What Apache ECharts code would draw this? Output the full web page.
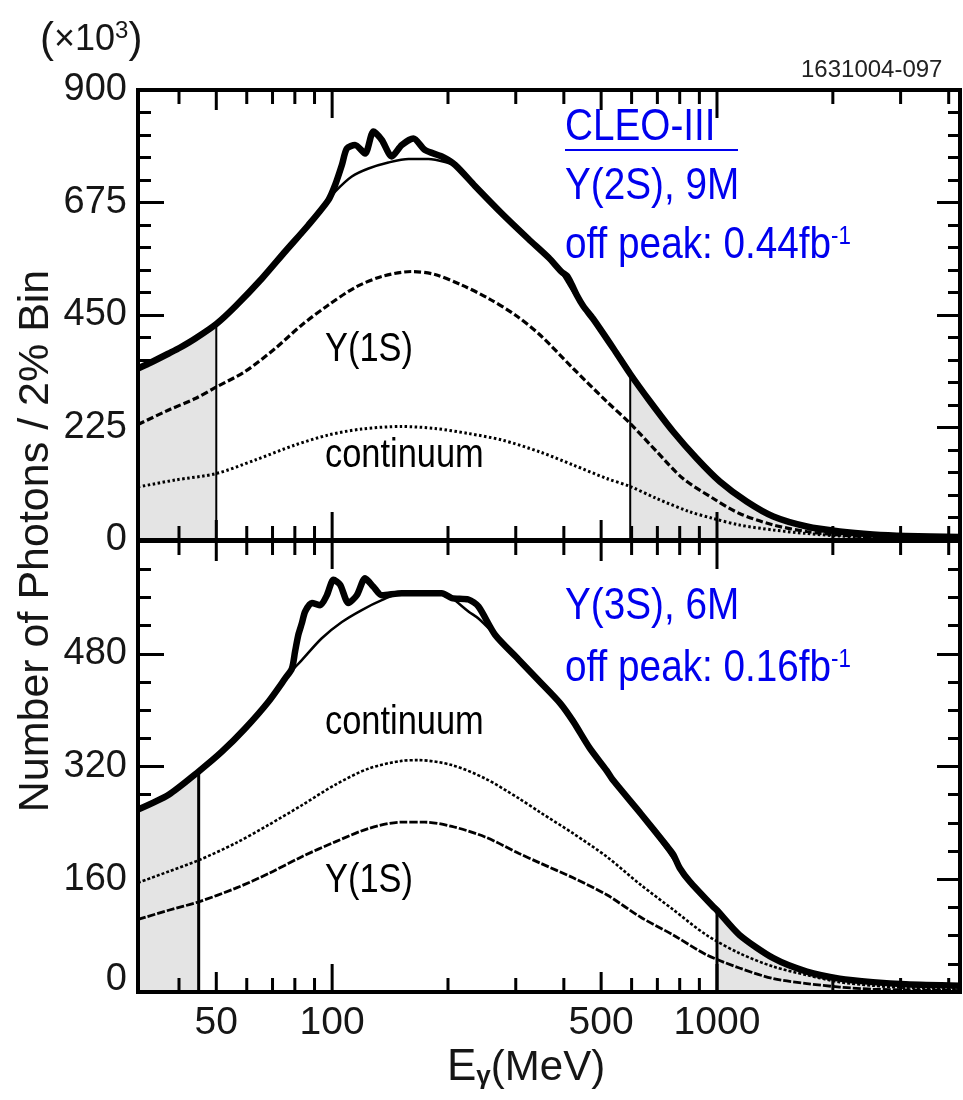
<!DOCTYPE html>
<html>
<head>
<meta charset="utf-8">
<script src="https://cdn.jsdelivr.net/npm/echarts@6/dist/echarts.min.js"></script>
<style>
  html, body { margin: 0; padding: 0; background: #fff; }
  #chart { width: 963px; height: 1100px; }
</style>
</head>
<body>
<div id="chart"></div>
<script>
// Photon energy axis (MeV, logarithmic)
const xRange = [31.3, 4280];
const xTicks = [40, 50, 60, 70, 80, 90, 100, 200, 300, 400, 500, 600, 700, 800, 900, 1000, 2000, 3000, 4000];
const xMajorTicks = [100, 1000];
const xMidTicks = [50, 500];
const xTickLabels = [50, 100, 500, 1000];

// Y ranges (x10^3 photons per 2% bin)
const topYRange = [0, 900];
const topYStep = 225;
const botYRange = [0, 640];
const botYStep = 160;

// Upsilon(2S) panel: [E_gamma (MeV), counts x10^3]
const topData = [[31.3,343],[34,356],[37.6,373],[40.3,385],[44.1,403],[50,432],[56,467],[65.7,523],[75.5,577],[86.8,630],[97.8,680],[101.8,710],[106,750],[109.2,783],[114.7,790],[121.8,773],[128,817],[134.6,800],[142.8,767],[151.7,790],[162.6,803],[174.3,780],[192.7,767],[208.8,750],[235,708],[276,653],[323.7,602],[365,565],[395,536],[408,528],[420,510],[432,490],[450,467],[476,443],[538,383],[595,332],[670,277],[769,217],[886,163],[1017,117],[1194,77],[1401,47],[1712,27],[2083,17],[2542,11],[3094,8],[4280,6]];
const topFit = [[31.3,343],[34,356],[37.6,373],[40.3,385],[44.1,403],[50,432],[56,467],[65.7,523],[75.5,577],[86.8,630],[97.8,680],[101.8,697],[112.5,727],[124.3,743],[140,755],[158,762],[178,762],[196.6,756],[208.8,748],[235,708],[276,653],[323.7,602],[365,565],[395,533],[423,496],[476,443],[538,383],[595,332],[670,277],[769,217],[886,163],[1017,117],[1194,77],[1401,47],[1712,27],[2083,17],[2542,11],[3094,8],[4280,6]];
const topY1S = [[31.3,231],[37.6,260],[44.1,283],[50,306],[59.4,337],[71.1,383],[83.4,430],[97.8,470],[114.7,505],[134.6,527],[161,537],[185,531],[217,510],[255,483],[299,450],[347,410],[423,343],[517,277],[595,233],[697,177],[816,123],[978,83],[1144,53],[1401,30],[1712,17],[2083,10],[2542,6],[4280,3]];
const topCont = [[31.3,106],[39.1,120],[50,133],[63.1,160],[80.1,190],[97.8,210],[119.4,222],[151.7,227],[185,223],[226,213],[276,200],[347,176],[423,150],[517,123],[595,107],[697,83],[846,57],[978,43],[1144,30],[1401,20],[1712,13],[2083,8],[2542,5],[4280,2]];
const topCuts = [50, 595];

// Upsilon(3S) panel
const botData = [[31.3,259],[37.6,280],[45,313],[51.7,341],[59.4,374],[68.3,412],[75.5,445],[78.6,459],[80.1,483],[81.7,507],[83.4,523],[85.1,540],[88.6,552],[93.1,549],[96.9,563],[100.8,585],[104.9,578],[110.2,552],[115.9,563],[121.8,587],[128,575],[134.6,563],[151.7,566],[192.7,566],[204.6,559],[226,557],[240,547],[265,507],[305,472],[347,440],[391,410],[423,384],[467,346],[517,314],[538,300],[634,253],[741,207],[770,195],[800,176],[849,157],[978,121],[1000,116],[1144,81],[1401,48],[1712,29],[2083,19],[2542,14],[3094,11],[4280,9]];
const botFit = [[31.3,259],[37.6,280],[45,313],[51.7,341],[59.4,374],[68.3,412],[75.5,445],[83.4,471],[94,502],[106,525],[119.4,542],[134.6,556],[151.7,566],[192.7,566],[204.6,559],[226,540],[240,530],[265,507],[305,472],[347,440],[391,410],[423,384],[467,346],[517,314],[538,300],[634,253],[741,202],[849,157],[978,121],[1000,116],[1144,81],[1401,48],[1712,29],[2083,19],[2542,14],[3094,11],[4280,9]];
const botCont = [[31.3,155],[37.6,171],[45,187],[56,211],[68.3,237],[83.4,265],[101.8,294],[124.3,317],[151.7,328],[167.5,329],[204.6,322],[249.7,303],[305,275],[347,255],[423,225],[517,192],[634,152],[769,117],[938,81],[1144,55],[1401,36],[1712,24],[2083,14],[2542,9],[3094,6],[4280,4]];
const botY1S = [[31.3,103],[37.6,116],[45,128],[56,147],[68.3,168],[83.4,192],[101.8,213],[124.3,232],[151.7,241],[174,241],[204.6,235],[249.7,220],[305,197],[347,183],[423,162],[517,138],[634,106],[769,81],[938,53],[1144,34],[1401,19],[1712,12],[2083,7],[2542,4],[3094,3],[4280,2]];
const botCuts = [45, 1000];

const FONT = "'Liberation Sans', Arial, Helvetica, sans-serif";
const INK = '#161616';
const BLUE = '#0000ee';
const SHADE = '#e4e4e4';
const GRIDS = [
  { left: 138, top: 90, width: 822, height: 450 },
  { left: 138, top: 541, width: 822, height: 451 }
];

function valueAt(arr, x) {
  const p = arr.find(q => q[0] === x);
  return p ? p[1] : 0;
}

// tick length in pixels: decades long, fives medium, the rest short
function tickLen(v) {
  if (xMajorTicks.indexOf(v) >= 0) return 28;
  if (xMidTicks.indexOf(v) >= 0) return 20;
  return 14;
}

// one short vertical segment per x tick, on both horizontal edges of a panel
function xTickSegments(axisIdx, yIdx, yr, gridH) {
  const unit = (yr[1] - yr[0]) / gridH;
  const common = { xAxisIndex: axisIdx, yAxisIndex: yIdx, symbol: 'none', silent: true, animation: false };
  const out = [];
  xTicks.forEach(v => {
    const l = tickLen(v) * unit;
    out.push(Object.assign({ type: 'line', z: 6, data: [[v, yr[1]], [v, yr[1] - l]],
      lineStyle: { color: '#000', width: 3 } }, common));
    out.push(Object.assign({ type: 'line', z: 6, data: [[v, yr[0]], [v, yr[0] + l]],
      lineStyle: { color: '#000', width: 3 } }, common));
  });
  return out;
}

function panelSeries(axisIdx, yIdx, data, fit, y1s, cont, cuts, cfg) {
  const common = { xAxisIndex: axisIdx, yAxisIndex: yIdx, symbol: 'none', silent: true, animation: false };
  const shadeStyle = { areaStyle: { color: SHADE, opacity: 1 }, lineStyle: { width: 0 }, smooth: 0.25, z: 1 };
  return [
    Object.assign({ type: 'line', data: data.filter(p => p[0] <= cuts[0]) }, common, shadeStyle),
    Object.assign({ type: 'line', data: data.filter(p => p[0] >= cuts[1]) }, common, shadeStyle),
    Object.assign({ type: 'line', z: 2, data: [[cuts[0], 0], [cuts[0], valueAt(data, cuts[0])]],
      lineStyle: { color: '#000', width: cfg.cutWidth } }, common),
    Object.assign({ type: 'line', z: 2, data: [[cuts[1], 0], [cuts[1], valueAt(data, cuts[1])]],
      lineStyle: { color: '#000', width: cfg.cutWidth } }, common),
    Object.assign({ type: 'line', z: 3, smooth: 0.3, data: cont,
      lineStyle: { color: '#000', width: cfg.contWidth, type: cfg.contDash, cap: 'butt' } }, common),
    Object.assign({ type: 'line', z: 3, smooth: 0.3, data: y1s,
      lineStyle: { color: '#000', width: cfg.y1sWidth, type: cfg.y1sDash, cap: 'butt' } }, common),
    Object.assign({ type: 'line', z: 4, smooth: 0.3, data: fit,
      lineStyle: { color: '#000', width: 2.5 } }, common),
    Object.assign({ type: 'line', z: 5, smooth: 0.25, data: data,
      lineStyle: { color: '#000', width: 6.5, join: 'round' } }, common)
  ];
}

function yAxes(grid, range, step, minorSplit, labelFmt) {
  const base = {
    type: 'value', gridIndex: grid, min: range[0], max: range[1], interval: step,
    axisLine: { show: false }, splitLine: { show: false }
  };
  return [
    Object.assign({}, base, {
      position: 'left',
      axisTick: { show: true, inside: true, length: 26, lineStyle: { color: '#000', width: 3 } },
      minorTick: { show: true, splitNumber: minorSplit, length: 13, lineStyle: { color: '#000', width: 3 } },
      axisLabel: {
        show: true, margin: 11, fontSize: 38, fontFamily: FONT, color: INK,
        formatter: labelFmt,
        rich: { lift: { fontSize: 38, fontFamily: FONT, color: INK, padding: [0, 0, 24, 0] } }
      }
    }),
    Object.assign({}, base, {
      position: 'right',
      axisTick: { show: true, inside: true, length: 23, lineStyle: { color: '#000', width: 3 } },
      minorTick: { show: true, splitNumber: minorSplit, length: 12, lineStyle: { color: '#000', width: 3 } },
      axisLabel: { show: false }
    })
  ];
}

function xAxisDef(grid) {
  return {
    type: 'log', logBase: 10, gridIndex: grid, min: xRange[0], max: xRange[1],
    axisLine: { show: false }, axisTick: { show: false }, axisLabel: { show: false },
    splitLine: { show: false }, minorTick: { show: false }
  };
}

// text placed by its baseline (middle anchor sits ~0.31 em above the baseline)
function label(x, baseline, size, text, color, sx, extra) {
  return Object.assign({
    type: 'text', x: x, y: baseline - 0.31 * size, scaleX: sx, z: 30,
    style: { text: text, fontSize: size, fontFamily: FONT, fill: color, align: 'left', verticalAlign: 'middle' }
  }, extra || {});
}

function supLabel(x, baseline, text, sup) {
  return label(x, baseline, 45, '', BLUE, 0.86, {
    style: { text: '{a|' + text + '}{s|' + sup + '}', fill: BLUE, align: 'left', verticalAlign: 'middle',
      rich: { a: { fontSize: 45, fontFamily: FONT }, s: { fontSize: 26, fontFamily: FONT, verticalAlign: 'top' } } }
  });
}

const chart = echarts.init(document.getElementById('chart'), null, { renderer: 'canvas' });

const option = {
  animation: false,
  backgroundColor: '#fff',
  grid: GRIDS.map(g => Object.assign({ show: true, borderColor: '#000', borderWidth: 4, z: 10 }, g)),
  xAxis: [xAxisDef(0), xAxisDef(1)],
  yAxis: [
    ...yAxes(0, topYRange, topYStep, 5, v => String(v)),
    ...yAxes(1, botYRange, botYStep, 4, v => (v === botYRange[1] ? '' : (v === 0 ? '{lift|0}' : String(v))))
  ],
  series: [
    ...panelSeries(0, 0, topData, topFit, topY1S, topCont, topCuts,
      { cutWidth: 2, contWidth: 3, contDash: [2.5, 2.5], y1sWidth: 3.2, y1sDash: [7, 3] }),
    ...panelSeries(1, 2, botData, botFit, botY1S, botCont, botCuts,
      { cutWidth: 3, contWidth: 2.6, contDash: [3, 2], y1sWidth: 2.8, y1sDash: [8, 2] }),
    ...xTickSegments(0, 0, topYRange, GRIDS[0].height),
    ...xTickSegments(1, 2, botYRange, GRIDS[1].height),
    {
      type: 'custom', xAxisIndex: 1, yAxisIndex: 2, silent: true, z: 8,
      data: xTickLabels.map(v => [v, 0]),
      renderItem(params, api) {
        const v = api.value(0);
        const x = api.coord([v, 0])[0];
        const cs = params.coordSys;
        return { type: 'text', x: x, y: cs.y + cs.height + 31,
          style: { text: String(v), fontSize: 39, fontFamily: FONT, fill: INK, align: 'center', verticalAlign: 'middle' } };
      }
    }
  ],
  graphic: [
    { type: 'text', x: 36, y: 541, rotation: Math.PI / 2, z: 30,
      style: { text: 'Number of Photons / 2% Bin', fontSize: 43, fontFamily: FONT, fill: INK, align: 'center', verticalAlign: 'middle' } },
    { type: 'text', x: 40, y: 40, z: 30,
      style: { text: '{p|(}{n|×10}{s|3}{p|)}', fill: INK, align: 'left', verticalAlign: 'middle',
        rich: { p: { fontSize: 42, fontFamily: FONT }, n: { fontSize: 36, fontFamily: FONT }, s: { fontSize: 24, fontFamily: FONT, verticalAlign: 'top' } } } },
    label(801, 78, 24, '1631004-097', '#222', 1),
    label(565, 142, 45, 'CLEO-III', BLUE, 0.86),
    { type: 'line', z: 30, shape: { x1: 565, y1: 150, x2: 738, y2: 150 }, style: { stroke: BLUE, lineWidth: 2 } },
    label(565, 201, 45, 'Y(2S), 9M', BLUE, 0.86),
    supLabel(565, 260, 'off peak: 0.44fb', '-1'),
    label(565, 621, 45, 'Y(3S), 6M', BLUE, 0.86),
    supLabel(565, 683, 'off peak: 0.16fb', '-1'),
    label(325, 362, 40, 'Y(1S)', '#000', 0.86),
    label(325, 468, 40, 'continuum', '#000', 0.86),
    label(325, 735, 40, 'continuum', '#000', 0.86),
    label(325, 893, 40, 'Y(1S)', '#000', 0.86),
    { type: 'text', x: 447, y: 1068, z: 30,
      style: { text: '{e|E}{g|γ}{m|(MeV)}', fill: INK, align: 'left', verticalAlign: 'middle',
        rich: { e: { fontSize: 44, fontFamily: FONT }, g: { fontSize: 26, fontFamily: FONT, fontWeight: 'bold', verticalAlign: 'bottom' }, m: { fontSize: 42, fontFamily: FONT } } } }
  ]
};

chart.setOption(option);
</script>
</body>
</html>
